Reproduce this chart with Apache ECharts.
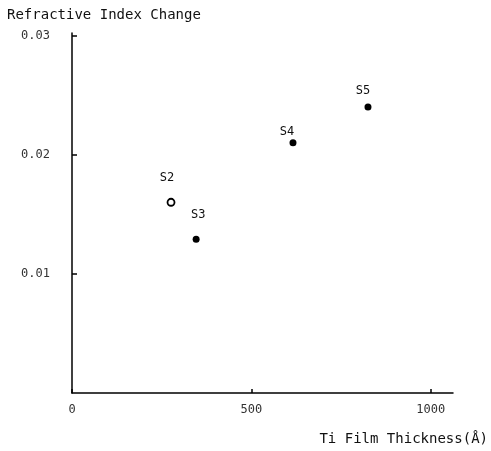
<!DOCTYPE html>
<html>
<head>
<meta charset="utf-8">
<script src="https://cdn.jsdelivr.net/npm/echarts@6/dist/echarts.min.js"></script>
<style>
html,body{margin:0;padding:0;background:#fff;}
#chart{width:491px;height:451px;}
</style>
</head>
<body>
<div id="chart"></div>
<script>
// ---- data ----
const sampleNames = ['S2', 'S3', 'S4', 'S5'];
const thickness = [276, 346, 616, 825];          // Å
const indexChange = [0.0160, 0.0129, 0.0210, 0.0240];
const markerKinds = ['open', 'filled', 'filled', 'filled'];
const yTicks = [0.01, 0.02, 0.03];

// ---- layout / style ----
const labelOffsets = [[-4, -9], [2, -10], [-6, 4], [-5, -2]];
const FONT = '"DejaVu Sans Mono", monospace';
const INK = '#000';

const chart = echarts.init(document.getElementById('chart'), null, {renderer: 'canvas'});

const points = sampleNames.map((n, i) => ({
  name: n,
  value: [thickness[i], indexChange[i]],
  itemStyle: markerKinds[i] === 'open'
    ? {color: '#fff', borderColor: INK, borderWidth: 1.8, opacity: 1}
    : {color: INK, borderWidth: 0, opacity: 1},
  label: {offset: labelOffsets[i]}
}));

chart.setOption({
  animation: false,
  backgroundColor: '#fff',
  title: {
    text: 'Refractive Index Change',
    left: 2, top: 3,
    textStyle: {fontFamily: FONT, fontSize: 14, fontWeight: 'normal', color: '#111'}
  },
  graphic: [{
    type: 'text', right: 3, top: 432,
    style: {text: 'Ti Film Thickness(Å)', fontFamily: FONT, fontSize: 14, fill: '#111'}
  }],
  grid: {left: 72, right: 38, top: 33, bottom: 58, containLabel: false},
  xAxis: {
    type: 'value', min: 0, max: 1062, interval: 500,
    splitLine: {show: false},
    axisLine: {lineStyle: {color: INK, width: 1.5}},
    axisTick: {inside: true, length: 4, lineStyle: {color: INK, width: 1.5}},
    axisLabel: {margin: 11, fontFamily: FONT, fontSize: 12, color: '#333',
      showMaxLabel: false, formatter: v => String(v)}
  },
  yAxis: {
    type: 'value', min: 0, max: 0.0302, interval: 0.01,
    splitLine: {show: false},
    axisLine: {lineStyle: {color: INK, width: 1.5}},
    axisTick: {inside: true, length: 5, lineStyle: {color: INK, width: 1.5},
      customValues: yTicks},
    axisLabel: {margin: 22, fontFamily: FONT, fontSize: 12, color: '#333',
      customValues: yTicks, formatter: v => v.toFixed(2)}
  },
  series: [{
    type: 'scatter',
    symbol: 'circle',
    symbolSize: 7,
    data: points,
    label: {
      show: true, position: 'top', distance: 5,
      formatter: p => p.name,
      fontFamily: FONT, fontSize: 12, color: '#111'
    }
  }]
});
</script>
</body>
</html>
